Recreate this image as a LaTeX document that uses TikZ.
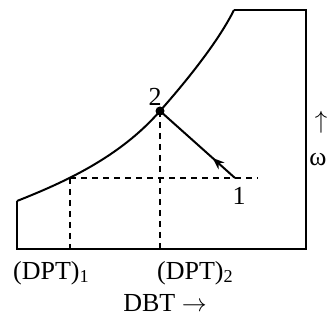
\documentclass[tikz,border=0pt]{standalone}
\usepackage{fontspec}
\setmainfont{Liberation Serif}
\usetikzlibrary{arrows.meta, positioning, decorations.markings}

\begin{document}
\begin{tikzpicture}[
  x=1pt, y=-1pt,
  frame/.style={line width=2pt, line join=miter},
  guide/.style={line width=1.8pt, dash pattern=on 6pt off 5pt},
  lbl/.style={font=\fontsize{26}{30}\selectfont, inner sep=0pt},
  proc/.style={line width=2pt, postaction={decorate},
    decoration={markings, mark=at position 0.3 with {\arrow{Stealth[length=12pt, width=9pt]}}}},
]
  \useasboundingbox (0,0) rectangle (327,320);
  % chart corners
  \coordinate (c0) at (17,201);
  \coordinate (bl) at (17,249);
  \coordinate (br) at (306,249);
  \coordinate (tr) at (306,10);
  \coordinate (ct) at (234,10);
  % states and guide ends
  \coordinate (s1) at (70,178);
  \coordinate (p2) at (160,111);
  \coordinate (p1) at (235,178);
  \coordinate (dend) at (258,178);
  \coordinate (f1) at (s1 |- bl);
  \coordinate (f2) at (p2 |- bl);

  \draw[frame] (c0) -- (bl) -- (br) -- (tr) -- (ct);
  \draw[frame] (c0) .. controls (65,182) and (120,157) .. (p2)
    .. controls (190,77) and (219,40) .. (ct);

  \draw[guide] (s1) -- (dend);
  \draw[guide] (s1) -- (f1);
  \draw[guide] (p2) -- (f2);

  \draw[proc] (p1) -- (p2);
  \fill (p2) circle (4.5pt);

  \node[lbl, above=5pt of p2, xshift=-5pt] (n2) {2};
  \node[lbl, below=9pt of p1, xshift=4pt] (n1) {1};
  \node[lbl, anchor=north west, below right=12pt and -4pt of bl] (dpt1) {(DPT)\textsubscript{1}};
  \node[lbl, anchor=north west, below right=12pt and -3pt of f2] (dpt2) {(DPT)\textsubscript{2}};
  \node[lbl] (dbt) at (165,303) {DBT $\rightarrow$};
  \node[lbl] (up) at (321,122) {$\uparrow$};
  \node[lbl] (om) at (318,160) {ω};
\end{tikzpicture}
\end{document}
